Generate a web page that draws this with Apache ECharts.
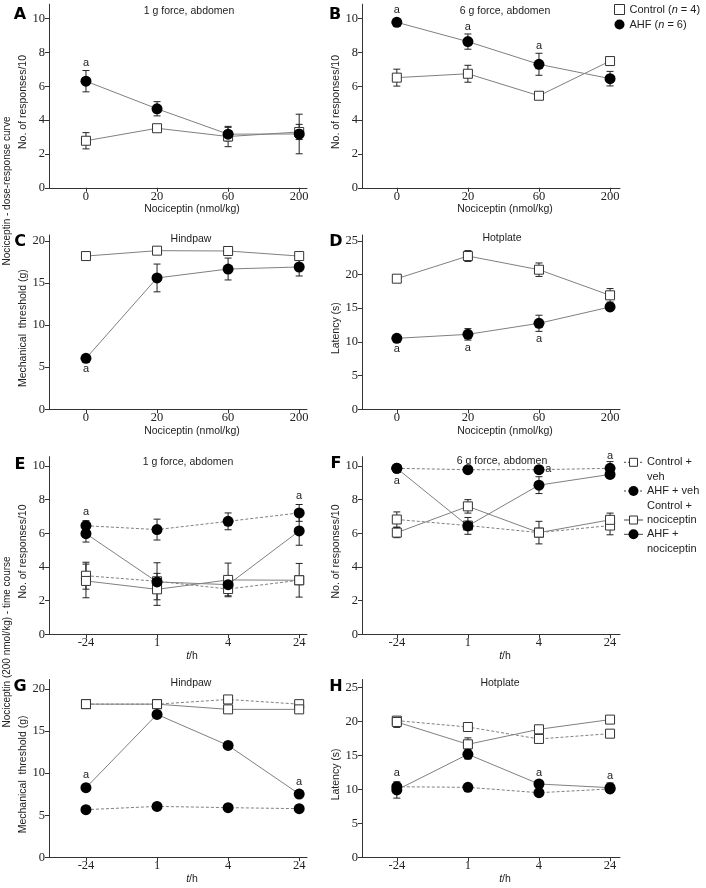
<!DOCTYPE html>
<html><head><meta charset="utf-8">
<script src="https://cdn.jsdelivr.net/npm/echarts@6/dist/echarts.min.js"></script>
<style>html,body{margin:0;padding:0;background:#fff}#c{width:706px;height:888px}</style>
</head><body><div id="c"></div>
<script>
// ---------- data ----------
const doseLabels = ['0', '20', '60', '200'];
const timeLabels = ['-24', '1', '4', '24'];
const respTicks = [0, 2, 4, 6, 8, 10];
const threshTicks = [0, 5, 10, 15, 20];
const latencyTicks = [0, 5, 10, 15, 20, 25];

// Panel A: 1 g force, abdomen (dose-response)
const A_control = [2.78, 3.52, 3.03, 3.30];
const A_controlErr = [0.48, 0, 0.6, 0.45];
const A_ahf = [6.30, 4.67, 3.17, 3.18];
const A_ahfErr = [0.63, 0.42, 0.40, 1.17];
// Panel B: 6 g force, abdomen
const B_control = [6.51, 6.74, 5.44, 7.49];
const B_controlErr = [0.5, 0.5, 0, 0];
const B_ahf = [9.78, 8.64, 7.30, 6.45];
const B_ahfErr = [0.22, 0.45, 0.65, 0.43];
// Panel C: Hindpaw
const C_control = [18.2, 18.84, 18.8, 18.2];
const C_controlErr = [0, 0, 0, 0.4];
const C_ahf = [6.05, 15.6, 16.66, 16.9];
const C_ahfErr = [0, 1.65, 1.3, 1.07];
// Panel D: Hotplate
const D_control = [19.38, 22.74, 20.71, 16.91];
const D_controlErr = [0, 0.8, 1.0, 1.0];
const D_ahf = [10.53, 11.12, 12.76, 15.18];
const D_ahfErr = [0, 0.85, 1.2, 0];
// Panel E: 1 g force, abdomen (time course)
const E_controlVeh = [3.48, 3.15, 2.69, 3.21];
const E_controlVehErr = [0.8, 1.1, 0.4, 1.0];
const E_ahfVeh = [6.45, 6.22, 6.71, 7.21];
const E_ahfVehErr = [0.3, 0.62, 0.5, 0.5];
const E_controlNoc = [3.17, 2.67, 3.23, 3.21];
const E_controlNocErr = [1.0, 0.95, 1.0, 0];
const E_ahfNoc = [5.98, 3.11, 2.95, 6.14];
const E_ahfNocErr = [0.5, 0, 0, 0.85];
// Panel F: 6 g force, abdomen (time course)
const F_controlVeh = [6.82, 6.46, 6.04, 6.46];
const F_controlVehErr = [0.45, 0, 0, 0.55];
const F_ahfVeh = [9.86, 9.78, 9.78, 9.86];
const F_ahfVehErr = [0, 0, 0, 0.4];
const F_controlNoc = [6.04, 7.6, 6.04, 6.8];
const F_controlNocErr = [0.3, 0.4, 0.67, 0.4];
const F_ahfNoc = [9.86, 6.44, 8.86, 9.5];
const F_ahfNocErr = [0, 0.5, 0.5, 0];
// Panel G: Hindpaw (time course)
const G_controlVeh = [18.21, 18.2, 18.76, 18.2];
const G_ahfVeh = [5.66, 6.05, 5.9, 5.78];
const G_controlNoc = [18.2, 18.2, 17.58, 17.58];
const G_ahfNoc = [8.27, 16.98, 13.3, 7.52];
// Panel H: Hotplate (time course)
const H_controlVeh = [20.14, 19.2, 17.44, 18.22];
const H_ahfVeh = [10.4, 10.31, 9.52, 10.07];
const H_controlNoc = [19.94, 16.65, 18.86, 20.29];
const H_controlNocErr = [0.8, 0.95, 0, 0];
const H_ahfNoc = [9.92, 15.18, 10.8, 10.26];
const H_ahfNocErr = [1.2, 0.7, 0, 0.7];
const zeroErr = [0, 0, 0, 0];

// significance marks "a": [category position, value]
const A_marks = [[0, 7.37]];
const B_marks = [[0, 10.51], [1, 9.53], [2, 8.38]];
const C_marks = [[0, 4.79]];
const D_marks = [[0, 8.95], [1, 9.14], [2, 10.38]];
const E_marks = [[0, 7.28], [3, 8.2]];
const F_marks = [[0, 9.1], [2.13, 9.8], [3, 10.58]];
const G_marks = [[0, 9.77], [3, 8.9]];
const H_marks = [[0, 12.39], [2, 12.39], [3, 12.03]];

// ---------- styling / layout ----------
const SANS = '"Liberation Sans", Arial, sans-serif';
const SERIF = '"Liberation Serif", "Times New Roman", serif';
const AX = '#333';
const LINE = '#808080';
const TXT = '#222';

const L = {left: 49, xmin: -0.52, xmax: 3.11, width: 258, nameGap: 12};
const R = {left: 362, xmin: -0.49, xmax: 3.14, width: 258, nameGap: 20};

const panels = [
  {col: L, top: 4.2, height: 183.6, ymax: 10.85, yTicks: respTicks, xLabels: doseLabels, xName: 'Nociceptin (nmol/kg)', yName: 'No. of responses/10', xGap: 13.5,
   series: [['Control', A_control, A_controlErr, 'sq', false], ['AHF', A_ahf, A_ahfErr, 'ci', false]], marks: A_marks},
  {col: R, top: 4.2, height: 183.6, ymax: 10.85, yTicks: respTicks, xLabels: doseLabels, xName: 'Nociceptin (nmol/kg)', yName: 'No. of responses/10', xGap: 13.5,
   series: [['Control', B_control, B_controlErr, 'sq', false], ['AHF', B_ahf, B_ahfErr, 'ci', false]], marks: B_marks},
  {col: L, top: 235, height: 174.3, ymax: 20.7, yTicks: threshTicks, xLabels: doseLabels, xName: 'Nociceptin (nmol/kg)', yName: 'Mechanical  threshold (g)', xGap: 13.5,
   series: [['Control', C_control, C_controlErr, 'sq', false], ['AHF', C_ahf, C_ahfErr, 'ci', false]], marks: C_marks},
  {col: R, top: 235, height: 174.3, ymax: 25.86, yTicks: latencyTicks, xLabels: doseLabels, xName: 'Nociceptin (nmol/kg)', yName: 'Latency (s)', xGap: 13.5,
   series: [['Control', D_control, D_controlErr, 'sq', false], ['AHF', D_ahf, D_ahfErr, 'ci', false]], marks: D_marks},
  {col: L, top: 456.7, height: 177.6, ymax: 10.55, yTicks: respTicks, xLabels: timeLabels, xName: '{i|t}/h', yName: 'No. of responses/10', xGap: 16.5,
   series: [['Control + veh', E_controlVeh, E_controlVehErr, 'sq', true], ['AHF + veh', E_ahfVeh, E_ahfVehErr, 'ci', true],
            ['Control + nociceptin', E_controlNoc, E_controlNocErr, 'sq', false], ['AHF + nociceptin', E_ahfNoc, E_ahfNocErr, 'ci', false]], marks: E_marks},
  {col: R, top: 456.7, height: 177.6, ymax: 10.55, yTicks: respTicks, xLabels: timeLabels, xName: '{i|t}/h', yName: 'No. of responses/10', xGap: 16.5,
   series: [['Control + veh', F_controlVeh, F_controlVehErr, 'sq', true], ['AHF + veh', F_ahfVeh, F_ahfVehErr, 'ci', true],
            ['Control + nociceptin', F_controlNoc, F_controlNocErr, 'sq', false], ['AHF + nociceptin', F_ahfNoc, F_ahfNocErr, 'ci', false]], marks: F_marks},
  {col: L, top: 679.5, height: 177.8, ymax: 21.13, yTicks: threshTicks, xLabels: timeLabels, xName: '{i|t}/h', yName: 'Mechanical  threshold (g)', xGap: 16.5,
   series: [['Control + veh', G_controlVeh, zeroErr, 'sq', true], ['AHF + veh', G_ahfVeh, zeroErr, 'ci', true],
            ['Control + nociceptin', G_controlNoc, zeroErr, 'sq', false], ['AHF + nociceptin', G_ahfNoc, zeroErr, 'ci', false]], marks: G_marks},
  {col: R, top: 679.5, height: 177.8, ymax: 26.2, yTicks: latencyTicks, xLabels: timeLabels, xName: '{i|t}/h', yName: 'Latency (s)', xGap: 16.5,
   series: [['Control + veh', H_controlVeh, zeroErr, 'sq', true], ['AHF + veh', H_ahfVeh, zeroErr, 'ci', true],
            ['Control + nociceptin', H_controlNoc, H_controlNocErr, 'sq', false], ['AHF + nociceptin', H_ahfNoc, H_ahfNocErr, 'ci', false]], marks: H_marks}
];

const panelTitles = [
  ['1 g force, abdomen', 189, 12], ['6 g force, abdomen', 505, 12],
  ['Hindpaw', 191, 240], ['Hotplate', 502, 239],
  ['1 g force, abdomen', 188, 463], ['6 g force, abdomen', 502, 462],
  ['Hindpaw', 191, 684], ['Hotplate', 500, 684]
];
const panelLetters = [['A', 20, 15], ['B', 335, 15], ['C', 20, 242], ['D', 336, 242], ['E', 20, 465], ['F', 336, 464], ['G', 20, 687], ['H', 336, 687]];

const grid = [], xAxis = [], yAxis = [], series = [];
const symStyle = {
  sq: {symbol: 'rect', symbolSize: 9, itemStyle: {color: '#fff', borderColor: '#333', borderWidth: 1}},
  ci: {symbol: 'circle', symbolSize: 11, itemStyle: {color: '#000', borderColor: '#000', borderWidth: 0}}
};

panels.forEach((p, i) => {
  grid.push({left: p.col.left, top: p.top, width: p.col.width, height: p.height, containLabel: false});
  const xl = p.xLabels;
  xAxis.push({
    gridIndex: i, type: 'value', min: p.col.xmin, max: p.col.xmax,
    axisLine: {show: true, onZero: false, lineStyle: {color: AX, width: 1}},
    splitLine: {show: false},
    axisTick: {show: true, customValues: [0, 1, 2, 3], length: 4, lineStyle: {color: AX}},
    axisLabel: {show: true, customValues: [0, 1, 2, 3], formatter: v => xl[Math.round(v)], margin: 2, fontFamily: SERIF, fontSize: 12.5, color: TXT},
    name: p.xName, nameLocation: 'middle', nameGap: p.xGap,
    nameTextStyle: {fontFamily: SANS, fontSize: 10.5, color: TXT, padding: [0, 0, 0, 28],
      rich: {i: {fontStyle: 'italic', fontFamily: SANS, fontSize: 10.5, color: TXT}}}
  });
  yAxis.push({
    gridIndex: i, type: 'value', min: 0, max: p.ymax,
    axisLine: {show: true, onZero: false, lineStyle: {color: AX, width: 1}},
    splitLine: {show: false},
    axisTick: {show: true, customValues: p.yTicks, length: 4, lineStyle: {color: AX}},
    axisLabel: {show: true, customValues: p.yTicks, margin: 4, fontFamily: SERIF, fontSize: 12.5, color: TXT},
    name: p.yName, nameLocation: 'middle', nameGap: p.col.nameGap,
    nameTextStyle: {fontFamily: SANS, fontSize: 10.5, color: TXT, padding: [0, 12, 0, 0]}
  });
  // error bars
  p.series.forEach(s => {
    const vals = s[1], err = s[2];
    const ed = [];
    vals.forEach((v, k) => { if (err[k] > 0) ed.push([k, v - err[k], v + err[k]]); });
    series.push({
      type: 'custom', xAxisIndex: i, yAxisIndex: i, silent: true, z: 1, data: ed,
      renderItem: (params, api) => {
        const x = api.value(0);
        const a = api.coord([x, api.value(2)]);
        const b = api.coord([x, api.value(1)]);
        const w = 3.5, st = {stroke: '#222', lineWidth: 1};
        return {type: 'group', children: [
          {type: 'line', shape: {x1: a[0], y1: a[1], x2: b[0], y2: b[1]}, style: st},
          {type: 'line', shape: {x1: a[0] - w, y1: a[1], x2: a[0] + w, y2: a[1]}, style: st},
          {type: 'line', shape: {x1: b[0] - w, y1: b[1], x2: b[0] + w, y2: b[1]}, style: st}
        ]};
      }
    });
  });
  // lines + markers
  p.series.forEach(s => {
    const ss = symStyle[s[3]];
    series.push({
      type: 'line', name: s[0], xAxisIndex: i, yAxisIndex: i, z: 2,
      data: s[1].map((v, k) => [k, v]),
      symbol: ss.symbol, symbolSize: ss.symbolSize, showSymbol: true, showAllSymbol: true,
      itemStyle: ss.itemStyle,
      lineStyle: {color: LINE, width: 1, type: s[4] ? [3, 2] : 'solid'},
      emphasis: {disabled: true}, clip: false
    });
  });
  // "a" marks
  series.push({
    type: 'custom', xAxisIndex: i, yAxisIndex: i, silent: true, z: 5, data: p.marks, clip: false,
    renderItem: (params, api) => {
      const c = api.coord([api.value(0), api.value(1)]);
      return {type: 'text', x: c[0], y: c[1], style: {text: 'a', align: 'center', verticalAlign: 'middle', font: '11px ' + SANS, fill: TXT}};
    }
  });
});

const title = panelTitles.map(t => ({
  text: t[0], left: t[1], top: t[2] - 6.5, textAlign: 'center', padding: 0,
  textStyle: {fontFamily: SANS, fontSize: 10.5, fontWeight: 'normal', color: TXT}
}));
panelLetters.forEach(t => title.push({
  text: t[0], left: t[1], top: t[2] - 8.5, textAlign: 'center', padding: 0,
  textStyle: {fontFamily: '"DejaVu Sans", Verdana, sans-serif', fontSize: 16, fontWeight: 'bold', color: '#000'}
}));

// E/F legend built from graphic elements (multi-line labels)
const legItems = [
  {y: 462.3, dash: true, sym: 'sq', lines: [['Control +', 462.3], ['veh', 476.7]]},
  {y: 491, dash: true, sym: 'ci', lines: [['AHF + veh', 491]]},
  {y: 520, dash: false, sym: 'sq', lines: [['Control +', 505.7], ['nociceptin', 520]]},
  {y: 534.3, dash: false, sym: 'ci', lines: [['AHF +', 534.3], ['nociceptin', 549]]}
];
const graphic = [
  {type: 'text', x: 7, y: 191, rotation: Math.PI / 2, style: {text: 'Nociceptin - dose-response curve', align: 'center', verticalAlign: 'middle', font: '10px ' + SANS, fill: TXT}},
  {type: 'text', x: 7, y: 642, rotation: Math.PI / 2, style: {text: 'Nociceptin (200 nmol/kg) - time course', align: 'center', verticalAlign: 'middle', font: '10px ' + SANS, fill: TXT}}
];
legItems.forEach(it => {
  graphic.push({type: 'line', shape: {x1: 624, y1: it.y, x2: 643, y2: it.y}, style: {stroke: '#444', lineWidth: 1, lineDash: it.dash ? [2, 2] : null}});
  if (it.sym === 'sq') graphic.push({type: 'rect', shape: {x: 629.5, y: it.y - 4, width: 8, height: 8}, style: {fill: '#fff', stroke: '#333', lineWidth: 1}});
  else graphic.push({type: 'circle', shape: {cx: 633.5, cy: it.y, r: 5}, style: {fill: '#000'}});
  it.lines.forEach(l => graphic.push({type: 'text', x: 647, y: l[1], style: {text: l[0], align: 'left', verticalAlign: 'middle', font: '11px ' + SANS, fill: TXT}}));
});

const chart = echarts.init(document.getElementById('c'), null, {renderer: 'canvas'});
chart.setOption({
  animation: false,
  backgroundColor: '#fff',
  title, grid, xAxis, yAxis, series, graphic,
  legend: {
    data: [
      {name: 'Control', icon: 'rect', itemStyle: {color: '#fff', borderColor: '#333', borderWidth: 1}},
      {name: 'AHF', icon: 'circle', itemStyle: {color: '#000', borderWidth: 0}}
    ],
    orient: 'vertical', left: 614, top: 4, padding: 0, itemWidth: 10, itemHeight: 10, itemGap: 4,
    selectedMode: false,
    formatter: n => n === 'Control' ? 'Control ({i|n} = 4)' : 'AHF ({i|n} = 6)',
    textStyle: {fontFamily: SANS, fontSize: 11, color: TXT, rich: {i: {fontStyle: 'italic', fontFamily: SANS, fontSize: 11, color: TXT}}}
  }
});
</script></body></html>
